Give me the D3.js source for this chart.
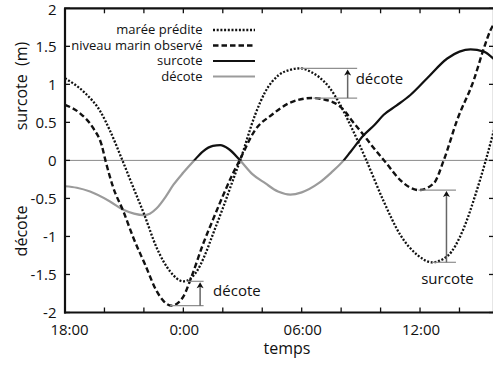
<!DOCTYPE html>
<html><head><meta charset="utf-8">
<script src="https://cdn.jsdelivr.net/npm/d3@7"></script>
<style>
body{margin:0;background:#fff}
svg text{font-family:"Open Sans",sans-serif;fill:#111}
</style>
</head><body>
<svg id="chart" width="493" height="367"></svg>
<script>
// Time is given in hours after 18:00; levels in metres.
const predHours  = [0, 1, 1.8, 2.3, 2.88, 3.5, 4.0, 4.65, 5.33, 6.0, 6.68, 7.1, 7.5, 8.0, 8.5, 8.88, 9.64, 10.15, 10.83, 11.4, 11.93, 12.5, 12.86, 13.4, 13.87, 14.55, 15.23, 16.16, 17.0, 17.85, 18.6, 19.38, 20.22, 20.81, 21.32, 21.75];
const predLevel  = [1.08, 0.89, 0.64, 0.38, 0.02, -0.38, -0.70, -1.15, -1.46, -1.59, -1.46, -1.24, -0.97, -0.63, -0.27, 0.0, 0.6, 0.9, 1.12, 1.19, 1.21, 1.16, 1.1, 0.96, 0.77, 0.42, 0.03, -0.54, -0.98, -1.24, -1.34, -1.26, -0.89, -0.45, -0.01, 0.4];

const obsHours   = [0, 0.76, 1.44, 1.86, 2.05, 2.45, 2.96, 3.47, 4.06, 4.65, 5.0, 5.41, 6.0, 6.4, 7.0, 7.5, 8.0, 8.5, 8.85, 9.64, 10.49, 11.34, 12.52, 13.54, 14.21, 14.55, 14.97, 15.6, 16.3, 17.0, 17.94, 18.7, 19.2, 19.88, 20.73, 21.23, 21.57, 21.75];
const obsLevel   = [0.73, 0.62, 0.42, 0.2, 0.0, -0.36, -0.67, -1.02, -1.37, -1.72, -1.85, -1.91, -1.79, -1.54, -1.1, -0.78, -0.47, -0.18, 0.0, 0.4, 0.6, 0.75, 0.82, 0.77, 0.64, 0.52, 0.39, 0.18, -0.04, -0.26, -0.39, -0.3, 0.0, 0.53, 1.06, 1.47, 1.71, 1.8];

const surgeHours = [0, 0.6, 1.27, 2.28, 2.96, 3.5, 3.97, 4.3, 4.65, 5.1, 5.5, 6.0, 6.55, 7.0, 7.5, 7.87, 8.3, 8.88, 9.5, 10.15, 10.8, 11.42, 12.0, 12.86, 13.5, 14.13, 14.47, 15.14, 15.7, 16.16, 16.8, 17.51, 18.36, 19.38, 20.0, 20.56, 21.23, 21.75];
const surgeLevel = [-0.34, -0.36, -0.41, -0.54, -0.65, -0.70, -0.72, -0.70, -0.63, -0.48, -0.32, -0.16, 0.0, 0.12, 0.19, 0.2, 0.15, 0.0, -0.18, -0.3, -0.41, -0.45, -0.42, -0.3, -0.16, 0.0, 0.11, 0.33, 0.47, 0.6, 0.72, 0.86, 1.08, 1.34, 1.43, 1.46, 1.43, 1.33];

const xTickHours  = [0, 2, 4, 6, 8, 10, 12, 14, 16, 18, 20];
const xLabelHours = [0, 6, 12, 18];
const xLabels     = ["18:00", "0:00", "06:00", "12:00"];
const yTicks      = [-2, -1.5, -1, -0.5, 0, 0.5, 1, 1.5, 2];
const yLabels     = ["-2", "-1.5", "-1", "-0.5", "0", "0.5", "1", "1.5", "2"];

const legendNames = ["marée prédite", "niveau marin observé", "surcote", "décote"];

// Arrows between the two curves: [label, hour of arrow, lower level, upper level]
const notes = [
  ["décote", 14.33, 0.82, 1.21],
  ["décote", 6.85, -1.91, -1.59],
  ["surcote", 19.34, -1.34, -0.39]
];

const svg = d3.select("#chart");
const L = 65, R = 494, T = 8.3, B = 312.5;
const x = d3.scaleLinear().domain([0, 21.75]).range([L, R]);
const y = d3.scaleLinear().domain([-2, 2]).range([B, T]);

const styles = {
  pred:  {stroke: "#111", width: 2.3, dash: "2,1.7"},
  obs:   {stroke: "#111", width: 2.4, dash: "5.5,3"},
  surc:  {stroke: "#111", width: 2.2, dash: null},
  deco:  {stroke: "#9b9b9b", width: 2.2, dash: null}
};

const defs = svg.append("defs");
defs.append("clipPath").attr("id", "plot").append("rect")
  .attr("x", L).attr("y", T).attr("width", R - L).attr("height", B - T);
defs.append("clipPath").attr("id", "above").append("rect")
  .attr("x", L).attr("y", T).attr("width", R - L).attr("height", y(0) - T);
defs.append("clipPath").attr("id", "below").append("rect")
  .attr("x", L).attr("y", y(0)).attr("width", R - L).attr("height", B - y(0));

// zero line
svg.append("line").attr("x1", L).attr("x2", R).attr("y1", y(0)).attr("y2", y(0))
  .attr("stroke", "#8a8a8a").attr("stroke-width", 1);

const line = d3.line().x(d => x(d[0])).y(d => y(d[1])).curve(d3.curveMonotoneX);
const zipS = (h, v) => h.map((t, i) => [t, v[i]]);

function drawSeries(data, st, clip) {
  svg.append("path").datum(data)
    .attr("clip-path", `url(#${clip})`)
    .attr("fill", "none").attr("stroke", st.stroke).attr("stroke-width", st.width)
    .attr("stroke-dasharray", st.dash)
    .attr("d", line);
}
const surge = zipS(surgeHours, surgeLevel);
drawSeries(surge, styles.deco, "below");
drawSeries(surge, styles.surc, "above");
drawSeries(zipS(predHours, predLevel), styles.pred, "plot");
drawSeries(zipS(obsHours, obsLevel), styles.obs, "plot");

// annotation arrows
const noteG = svg.append("g");
notes.forEach(([label, h, lo, hi], i) => {
  const ax = x(h);
  const grey = "#8f8f8f";
  // horizontal guides from each curve extreme
  const hiStart = i === 0 ? x(11.93) : i === 1 ? x(6.18) : x(17.92);
  const loStart = i === 0 ? x(12.6)  : i === 1 ? x(5.33) : x(18.6);
  const end = ax + (i === 1 ? 3.5 : 9.5);
  noteG.append("line").attr("x1", hiStart).attr("x2", end).attr("y1", y(hi)).attr("y2", y(hi))
    .attr("stroke", grey).attr("stroke-width", 1.2);
  noteG.append("line").attr("x1", loStart).attr("x2", end).attr("y1", y(lo)).attr("y2", y(lo))
    .attr("stroke", grey).attr("stroke-width", 1.2);
  noteG.append("line").attr("x1", ax).attr("x2", ax).attr("y1", y(lo)).attr("y2", y(hi) + 4)
    .attr("stroke", "#666").attr("stroke-width", 1.5);
  const ty = y(hi) + 1;
  noteG.append("path")
    .attr("d", `M${ax - 3.5},${ty + 6} L${ax},${ty} L${ax + 3.5},${ty + 6} L${ax},${ty + 4.5} Z`)
    .attr("fill", "#111");
  if (i === 0) {
    noteG.append("text").attr("x", ax + 8).attr("y", 83.5).attr("font-size", 15).text(label);
  } else if (i === 1) {
    noteG.append("text").attr("x", ax + 13).attr("y", 296).attr("font-size", 15).text(label);
  } else {
    noteG.append("text").attr("x", ax + 1).attr("y", 284).attr("text-anchor", "middle")
      .attr("font-size", 15).text(label);
  }
});

// frame and ticks
const axisG = svg.append("g").attr("stroke", "#111");
axisG.append("line").attr("x1", L).attr("x2", L).attr("y1", T).attr("y2", B + 1).attr("stroke-width", 2.2);
axisG.append("line").attr("x1", L - 1).attr("x2", R).attr("y1", B).attr("y2", B).attr("stroke-width", 2.2);
axisG.append("line").attr("x1", L - 1).attr("x2", R).attr("y1", T).attr("y2", T).attr("stroke-width", 2.2);
axisG.append("line").attr("x1", R).attr("x2", R).attr("y1", T).attr("y2", B).attr("stroke-width", 2.2);

xTickHours.forEach(h => {
  axisG.append("line").attr("x1", x(h)).attr("x2", x(h)).attr("y1", B).attr("y2", B - 5).attr("stroke-width", 1.3);
  axisG.append("line").attr("x1", x(h)).attr("x2", x(h)).attr("y1", T).attr("y2", T + 5).attr("stroke-width", 1.3);
});
yTicks.forEach(v => {
  axisG.append("line").attr("x1", L).attr("x2", L + 5).attr("y1", y(v)).attr("y2", y(v)).attr("stroke-width", 1.3);
  axisG.append("line").attr("x1", R).attr("x2", R - 5).attr("y1", y(v)).attr("y2", y(v)).attr("stroke-width", 1.3);
});

svg.append("g").selectAll("text").data(xLabelHours).join("text")
  .attr("x", (h, i) => x(h) + (i === 0 ? 4.5 : 1)).attr("y", 335)
  .attr("text-anchor", "middle").attr("font-size", 15)
  .text((h, i) => xLabels[i]);

svg.append("g").selectAll("text").data(yTicks).join("text")
  .attr("x", 56.5).attr("y", v => y(v) + (v === 2 ? 1 : 0)).attr("dy", "0.36em")
  .attr("text-anchor", "end").attr("font-size", 15)
  .text((v, i) => yLabels[i]);

// axis titles
svg.append("text").attr("x", 287).attr("y", 354).attr("text-anchor", "middle")
  .attr("font-size", 16).text("temps");
svg.append("text").attr("transform", "translate(27,86) rotate(-90)").attr("text-anchor", "middle")
  .attr("font-size", 16).attr("xml:space", "preserve").style("white-space", "pre").text("surcote  (m)");
svg.append("text").attr("transform", "translate(27,231) rotate(-90)").attr("text-anchor", "middle")
  .attr("font-size", 16).text("décote");

// legend
const legendStyles = [styles.pred, styles.obs, styles.surc, styles.deco];
const lg = svg.append("g");
legendNames.forEach((name, i) => {
  const by = 34.3 + i * 15.5;
  lg.append("text").attr("x", 202.5).attr("y", by).attr("text-anchor", "end")
    .attr("font-size", 13).text(name);
  const st = legendStyles[i];
  lg.append("line").attr("x1", 213).attr("x2", 255).attr("y1", by - 4.3).attr("y2", by - 4.3)
    .attr("stroke", st.stroke).attr("stroke-width", st.width).attr("stroke-dasharray", st.dash);
});
</script>
</body></html>
